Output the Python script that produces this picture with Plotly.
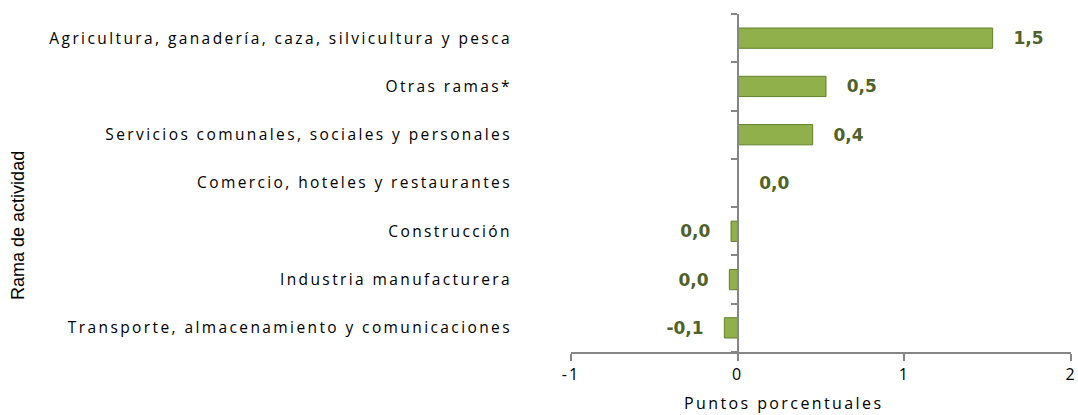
import plotly.graph_objects as go

# data, top to bottom as in the chart
ramas = [
    "Agricultura, ganadería, caza, silvicultura y pesca",
    "Otras ramas*",
    "Servicios comunales, sociales y personales",
    "Comercio, hoteles y restaurantes",
    "Construcción",
    "Industria manufacturera",
    "Transporte, almacenamiento y comunicaciones",
]
valores = [1.53, 0.53, 0.45, 0.005, -0.04, -0.05, -0.08]
etiquetas = ["1,5", "0,5", "0,4", "0,0", "0,0", "0,0", "-0,1"]

x_ticks = [-1, 0, 1, 2]
x_ticktext = ["-1", "0", "1", "2"]

AXIS_GREY = "#868686"
LABEL_GREEN = "#4F6228"


def spaced(s, px):
    # the original renders text with loose letter spacing
    return f'<span style="letter-spacing:{px}px">{s}</span>'


# pad labels away from the bar ends
textos = [f"   {t}" if v >= 0 else f"{t}   " for t, v in zip(etiquetas, valores)]

fig = go.Figure()
fig.add_trace(go.Bar(
    x=valores,
    y=ramas,
    orientation="h",
    width=0.42,
    marker=dict(color="#8FB04B", line=dict(color="#62802C", width=1)),
    text=textos,
    textposition="outside",
    cliponaxis=False,
    textfont=dict(family="DejaVu Sans", size=17, color=LABEL_GREEN, weight="bold"),
    hoverinfo="skip",
))

# invisible trace to carry the vertical axis drawn at x = 0
fig.add_trace(go.Scatter(
    x=[0] * len(ramas),
    y=list(range(len(ramas))),
    yaxis="y2",
    mode="markers",
    marker=dict(opacity=0),
    hoverinfo="skip",
    showlegend=False,
))

fig.update_layout(
    width=1078, height=415,
    paper_bgcolor="white", plot_bgcolor="white",
    margin=dict(l=571, r=7, t=14, b=63, autoexpand=False),
    showlegend=False,
    font=dict(family="Open Sans", color="black"),
    xaxis=dict(
        range=[-1, 2], tickvals=x_ticks, ticktext=[spaced(t, 2) for t in x_ticktext],
        showgrid=False, zeroline=False,
        showline=True, linecolor=AXIS_GREY, linewidth=1.5,
        ticks="outside", ticklen=7, tickcolor=AXIS_GREY, tickwidth=1.5,
        tickfont=dict(size=16, color="black"),
    ),
    yaxis=dict(
        categoryorder="array", categoryarray=ramas[::-1],
        tickvals=ramas, ticktext=[spaced(r, 2.4) for r in ramas],
        range=[-0.5, len(ramas) - 0.5],
        showgrid=False, zeroline=False, showline=False, ticks="",
        ticklabelstandoff=58,
        tickfont=dict(size=15.5, color="black"),
    ),
    yaxis2=dict(
        overlaying="y", anchor="free", position=1 / 3,
        range=[-0.5, len(ramas) - 0.5],
        tickvals=[i - 0.5 for i in range(len(ramas) + 1)],
        showticklabels=False, showgrid=False, zeroline=False,
        showline=True, linecolor=AXIS_GREY, linewidth=1.5,
        ticks="outside", ticklen=6, tickcolor=AXIS_GREY, tickwidth=1.5,
    ),
    annotations=[
        dict(
            text=spaced("Puntos porcentuales", 2.4), xref="paper", yref="paper",
            x=0.424, y=-0.113, yanchor="top", showarrow=False,
            font=dict(size=16, color="black"),
        ),
        dict(
            text="Rama de actividad", xref="paper", yref="paper",
            x=-1.106, y=0.373, xanchor="center", yanchor="middle",
            textangle=-90, showarrow=False,
            font=dict(family="Liberation Sans Narrow, Liberation Sans", size=18, color="black"),
        ),
    ],
)

# drop the browser's default body margin so the figure fills the window
fig.write_html("out.html", config={"displayModeBar": False},
               post_script="document.body.style.margin='0';")
